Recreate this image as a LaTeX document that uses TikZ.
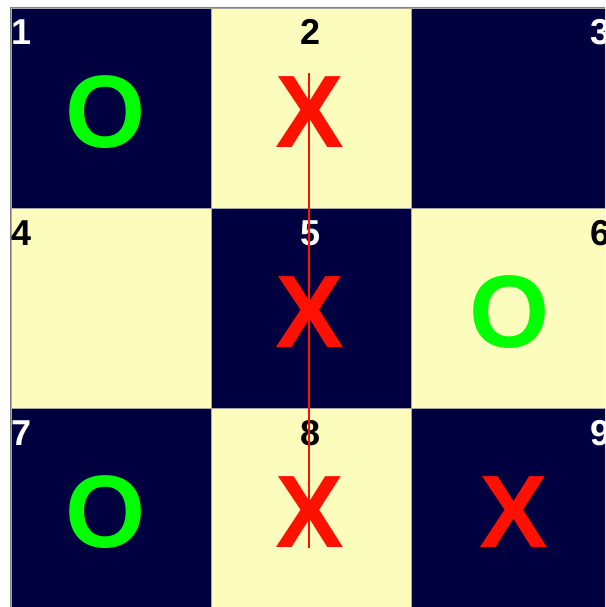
\documentclass[tikz,border=0pt]{standalone}
\usepackage{fontspec}
\setmainfont{Liberation Sans}
\usetikzlibrary{positioning}
\definecolor{boardnavy}{RGB}{0,0,64}
\definecolor{boardcream}{RGB}{252,252,188}
\definecolor{markred}{RGB}{255,16,0}
\definecolor{markgreen}{RGB}{0,255,0}
\tikzset{
  cell/.style      = {draw=gray!70, line width=0.8pt, minimum size=200pt,
                      inner sep=0pt, outer sep=0pt},
  darkcell/.style  = {cell, fill=boardnavy},
  lightcell/.style = {cell, fill=boardcream},
  num/.style       = {font=\bfseries\fontsize{36}{36}\selectfont, inner sep=0pt},
  piece/.style     = {font=\bfseries\fontsize{103}{103}\selectfont, inner sep=0pt, anchor=base},
  xpiece/.style    = {piece, text=markred},
  opiece/.style    = {piece, text=markgreen},
  winline/.style   = {draw=markred, line width=1.5pt},
}

\begin{document}
\begin{tikzpicture}[x=1pt, y=-1pt]
  \useasboundingbox (0,0) rectangle (605,607);
  \clip (0,0) rectangle (605,607);
  % board squares
  \foreach \n/\c/\r/\sty in {1/0/0/darkcell, 2/1/0/lightcell, 3/2/0/darkcell,
                             4/0/1/lightcell, 5/1/1/darkcell, 6/2/1/lightcell,
                             7/0/2/darkcell, 8/1/2/lightcell, 9/2/2/darkcell} {
    \node[\sty] (c\n) at ({111+200*\c}, {108+200*\r}) {};
  }
  % outer frame
  \draw[gray, line width=1.5pt] (10.5,607) -- (10.5,7.5) -- (605,7.5);
  % square numbers
  \foreach \n/\pos/\anc/\tc in {1/north west/base west/white, 2/north/base/black,
                                3/north east/base east/white, 4/north west/base west/black,
                                5/north/base/white, 6/north east/base east/black,
                                7/north west/base west/white, 8/north/base/black,
                                9/north east/base east/white} {
    \node[num, anchor=\anc, text=\tc] (n\n) at ([yshift=-37pt]c\n.\pos) {\n};
  }
  % pieces
  \foreach \n/\s/\st/\dx in {1/O/opiece/-5, 2/X/xpiece/-1, 5/X/xpiece/-1, 6/O/opiece/-1,
                             7/O/opiece/-5, 8/X/xpiece/-1, 9/X/xpiece/3} {
    \node[\st] (p\n) at ([xshift=\dx pt, yshift=-39pt]c\n.center) {\s};
  }
  % winning line
  \coordinate (wtop) at (309,73);
  \coordinate (wbot) at (309,548);
  \draw[winline] (wtop) -- (wbot);
\end{tikzpicture}
\end{document}
